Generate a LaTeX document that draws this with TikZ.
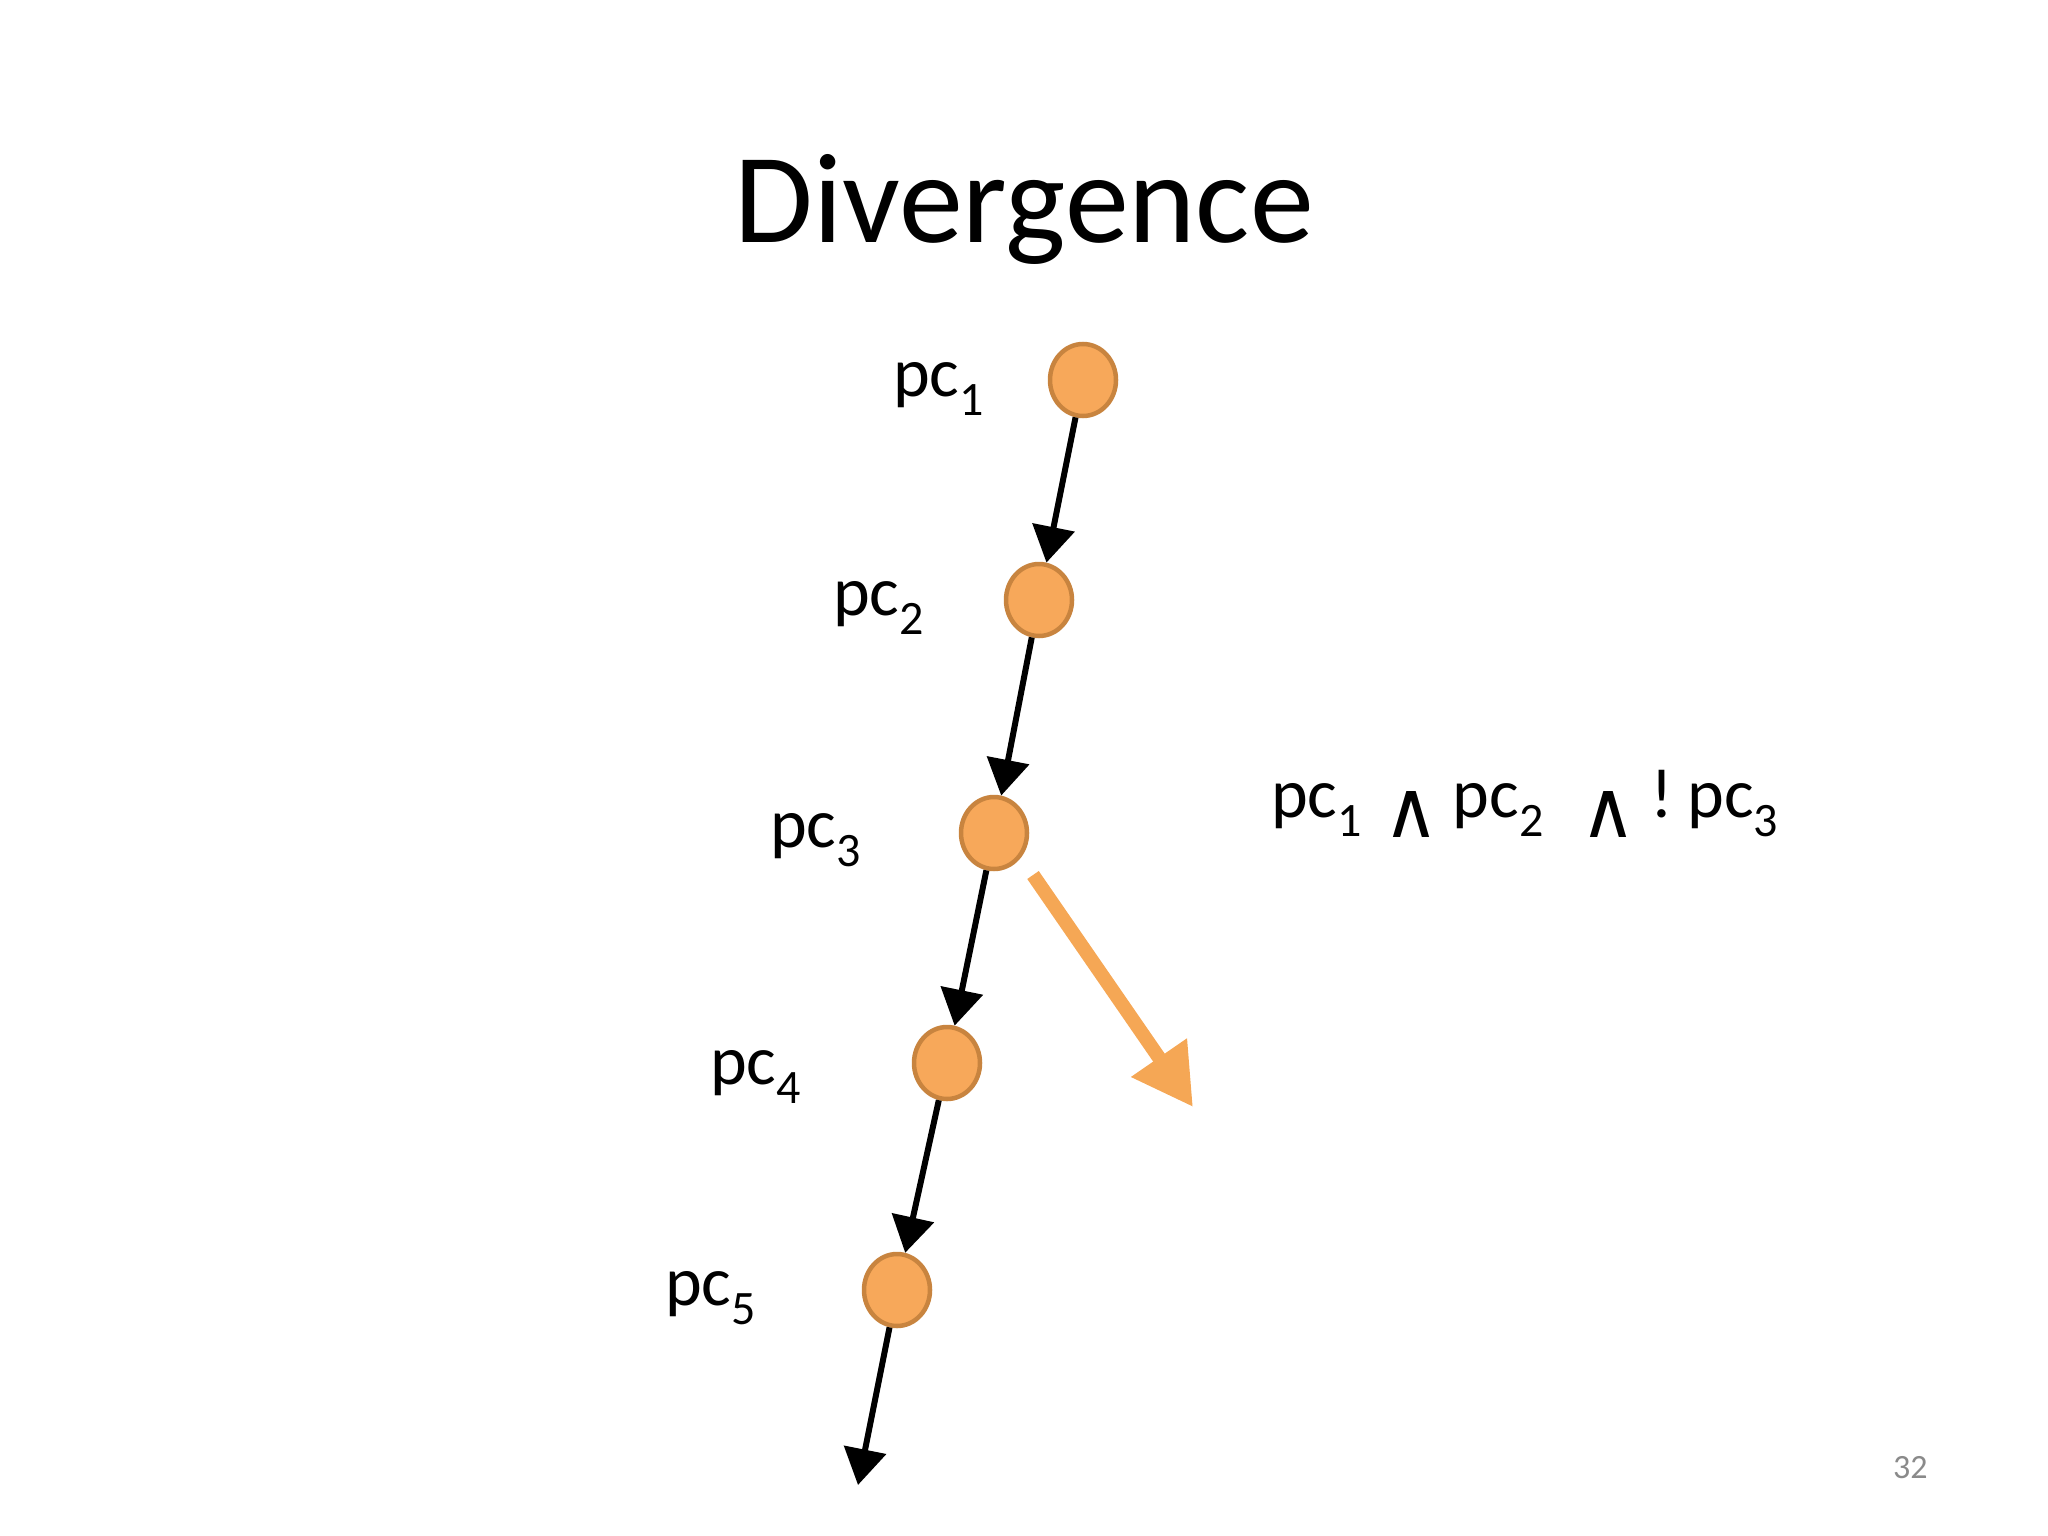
\documentclass[tikz,border=0pt]{standalone}
\usepackage{fontspec}
\setmainfont{Carlito}
\newfontfamily\symfont{DejaVu Sans}
\usetikzlibrary{arrows.meta,shapes.geometric}
\definecolor{pcfill}{HTML}{F7A85A}
\definecolor{pcdraw}{HTML}{C8843F}
\definecolor{branchcol}{HTML}{F5A755}
\definecolor{pagegray}{HTML}{8A8A8A}
\newcommand{\pcsub}[1]{pc\raisebox{-19pt}{\fontsize{48}{48}\selectfont #1}}
\newcommand{\andsym}{\raisebox{-20pt}{\resizebox{56pt}{46pt}{\symfont ∧}}}
\begin{document}
\begin{tikzpicture}[x=1pt,y=-1pt,
    pc/.style={ellipse,draw=pcdraw,fill=pcfill,line width=4.5pt,
      minimum width=66pt,minimum height=72pt,inner sep=0pt},
    lbl/.style={anchor=base west,inner sep=0pt,font=\fontsize{70}{70}\selectfont},
    flow/.style={line width=6pt,-{Triangle[length=36pt,width=42pt]}},
    branch/.style={draw=branchcol,line width=14pt,-{Triangle[length=60pt,width=64pt]}}]
  \useasboundingbox (0,0) rectangle (2048,1536);
  \node[anchor=base,inner sep=0pt,font=\fontsize{128}{128}\selectfont] (title) at (1024,242) {Divergence};
  \path
    (1083,380) node[pc] (1){}
    (1039,600) node[pc] (2){}
    (994,833) node[pc] (3){}
    (947,1063) node[pc] (4){}
    (897,1290) node[pc] (5){};
  \path
    (893,396) node[lbl] (l1){\pcsub{1}}
    (833,615) node[lbl] (l2){\pcsub{2}}
    (770,847) node[lbl] (l3){\pcsub{3}}
    (710,1084) node[lbl] (l4){\pcsub{4}}
    (665,1305) node[lbl] (l5){\pcsub{5}};
  \coordinate (out) at (858,1485);
  \begin{scope}[flow]
    \draw (1) to (2);
    \draw (2) to (3);
    \draw (3) to (4);
    \draw (4) to (5);
    \draw (5) to (out);
  \end{scope}
  \coordinate (b0) at (1033,875);
  \coordinate (b1) at (1193,1107);
  \draw[branch] (b0) -- (b1);
  \node[lbl] (cond) at (1271,817) {\pcsub{1}\hspace{22pt}\andsym\hspace{13pt}\pcsub{2}\hspace{37pt}\andsym\hspace{14pt}!\hspace{14pt}\pcsub{3}};
  \node[anchor=base west,inner sep=0pt,text=pagegray,font=\fontsize{34}{34}\selectfont] (page) at (1893,1478) {32};
\end{tikzpicture}
\end{document}
